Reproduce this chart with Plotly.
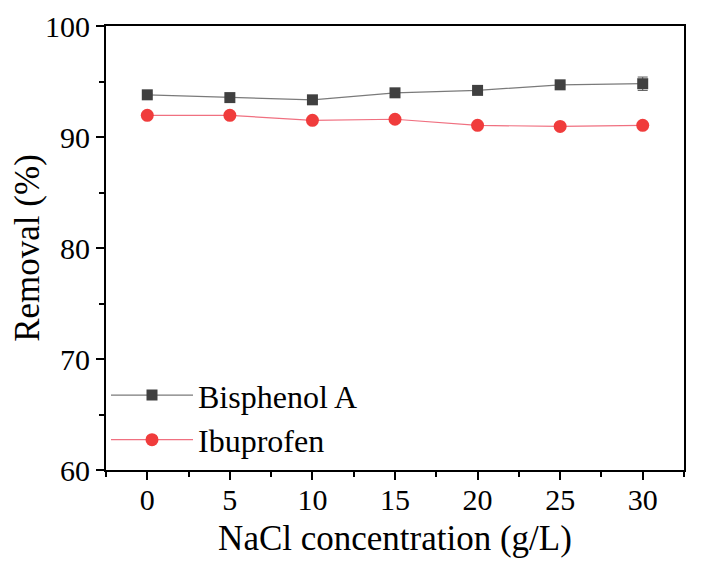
import plotly.graph_objects as go

nacl = [0, 5, 10, 15, 20, 25, 30]
bpa = [93.8, 93.55, 93.35, 93.98, 94.2, 94.7, 94.8]
bpa_err = [0.1, 0.1, 0.1, 0.1, 0.1, 0.15, 0.6]
ibu = [91.95, 91.95, 91.5, 91.6, 91.05, 90.95, 91.05]
ibu_err = [0.1, 0.1, 0.1, 0.1, 0.1, 0.2, 0.1]

font = 'Liberation Serif'

fig = go.Figure()
fig.add_trace(go.Scatter(
    x=nacl, y=bpa, name='Bisphenol A', mode='lines+markers',
    line=dict(color='#7a7a7a', width=1.2),
    marker=dict(symbol='square', size=11, color='#404040'),
    error_y=dict(type='data', array=bpa_err, color='#555555', thickness=1, width=5)))
fig.add_trace(go.Scatter(
    x=nacl, y=ibu, name='Ibuprofen', mode='lines+markers',
    line=dict(color='#f07080', width=1.2),
    marker=dict(symbol='circle', size=13, color='#f03c3c'),
    error_y=dict(type='data', array=ibu_err, color='#f03c3c', thickness=1, width=5)))

axis_common = dict(showline=True, linecolor='black', linewidth=2, mirror=True,
                   ticks='outside', ticklen=8, tickwidth=1.5, tickcolor='black',
                   showgrid=False, zeroline=False, automargin=False,
                   tickfont=dict(family=font, size=30, color='black'))

fig.update_xaxes(range=[-2.5, 32.5], tickvals=[0, 5, 10, 15, 20, 25, 30],
                 ticklabelstandoff=-6,
                 minor=dict(ticks='outside', ticklen=5, tickwidth=1.5, tickcolor='black', dtick=2.5, tick0=0),
                 title=dict(text='NaCl concentration (g/L)', font=dict(family=font, size=35, color='black'), standoff=10),
                 **axis_common)
fig.update_yaxes(range=[60, 100], tickvals=[60, 70, 80, 90, 100],
                 minor=dict(ticks='outside', ticklen=5, tickwidth=1.5, tickcolor='black', dtick=5, tick0=0),
                 title=dict(text='Removal (%)', font=dict(family=font, size=35, color='black'), standoff=13),
                 **axis_common)

fig.update_layout(
    width=702, height=569,
    margin=dict(l=98, r=26, t=18, b=107),
    plot_bgcolor='white', paper_bgcolor='white',
    legend=dict(x=0.0, y=0.005, xanchor='left', yanchor='bottom',
                font=dict(family=font, size=32, color='black'),
                bgcolor='rgba(0,0,0,0)', itemwidth=82, tracegroupgap=0),
)

fig.write_html("out.html")
